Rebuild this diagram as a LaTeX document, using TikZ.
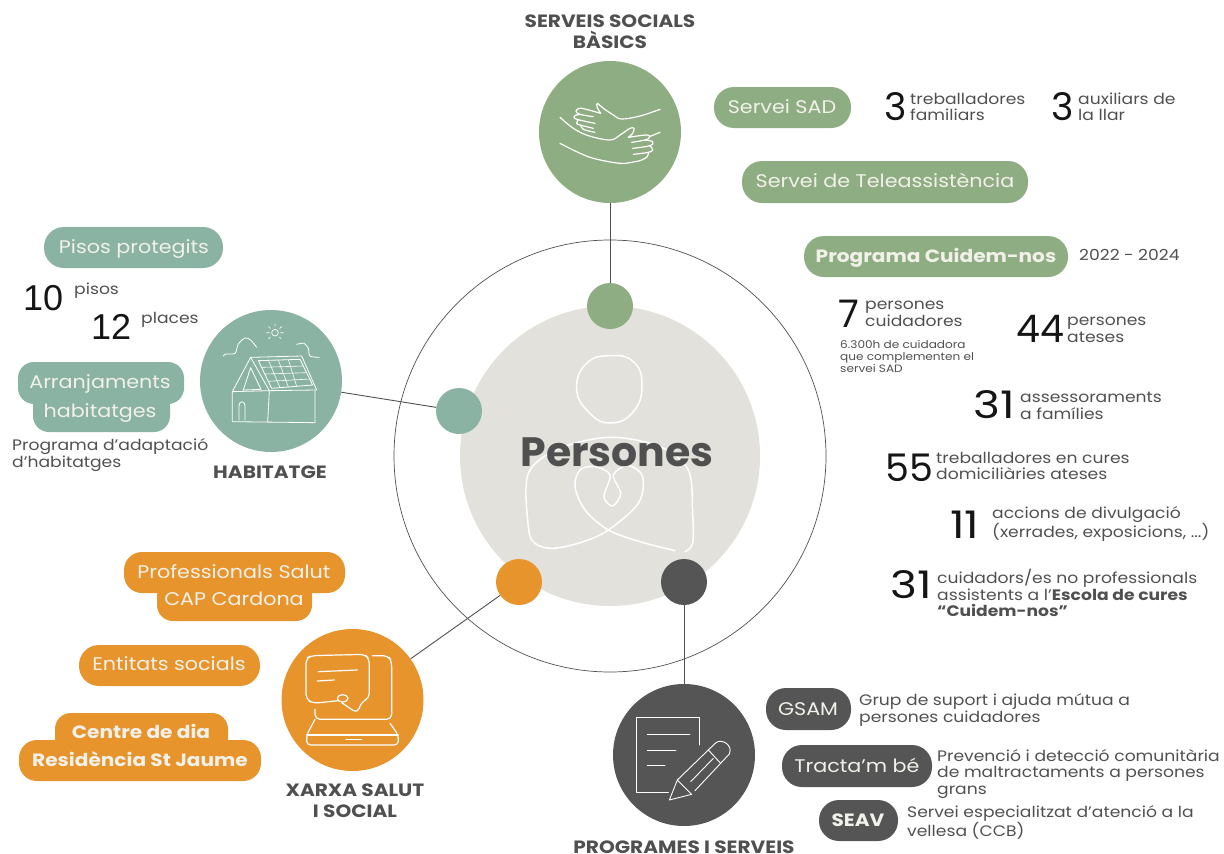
\documentclass[tikz,border=0pt]{standalone}
\usepackage{fontspec}
\setmainfont[FakeStretch=1.13]{Poppins}
\newfontfamily\plainfont{Poppins}
\newfontfamily\widefont[FakeStretch=1.2]{Poppins}
\newfontfamily\arialfont{Liberation Sans}
\definecolor{cgreen}{HTML}{8FAD82}
\definecolor{cteal}{HTML}{8AB3A3}
\definecolor{corange}{HTML}{E8942D}
\definecolor{cdark}{HTML}{555555}
\definecolor{cbeige}{HTML}{E3E1DB}
\definecolor{cpill}{HTML}{F1F1EA}
\definecolor{ctext}{HTML}{505050}
\definecolor{cnum}{HTML}{151515}
\newcommand{\fs}[2]{\fontsize{#1}{#2}\selectfont}
\tikzset{
  x=1pt,y=-1pt,
  zoomed/.style n args={2}{xshift=#1pt,yshift=-#2pt,x=.33333pt,y=-.33333pt},
  icon/.style={draw=white,line width=1.2pt,line cap=round,line join=round},
  ring/.style={draw=ctext,line width=.7pt},
  link/.style={draw=ctext,line width=.9pt},
  pilltext/.style={text=cpill,font=\fs{18.3}{22},inner sep=0pt,text height=12pt,text depth=4pt},
  pillbold/.style={text=cpill,font=\bfseries\fs{17.8}{22},inner sep=0pt,text height=12pt,text depth=4pt},
  title/.style={text=ctext,font=\bfseries\fs{17.8}{21},align=center,inner sep=0pt},
  lab/.style={text=ctext,anchor=west,align=left,font=\fs{15.2}{16.5},inner sep=0pt},
  num/.style={text=cnum,anchor=west,font=\plainfont\fs{38}{40},inner sep=0pt},
  numwide/.style={text=cnum,anchor=west,font=\widefont\fs{38}{40},inner sep=0pt},
  numarial/.style={text=cnum,anchor=west,font=\arialfont\fs{36}{40},inner sep=0pt},
  blob/.style={circle,inner sep=0pt,minimum size=#1}
}
\newcommand{\pill}[7]{%
  \fill[#6,rounded corners=#7pt] (#2,#3) rectangle (#4,#5);}
\begin{document}
\begin{tikzpicture}
\useasboundingbox (0,0) rectangle (1224,854);
% central circles
\node[blob=300pt,fill=cbeige] (core) at (610,456) {};
\node[blob=432pt,ring] (orbit) at (610,456) {};
% person icon
\begin{scope}[zoomed={460}{300}]
\draw[icon,line width=1.5pt] plot[smooth cycle,tension=.8] coordinates {(350,265)(380,190)(450,167)(520,185)(546,255)(520,335)(450,369)(385,335)};
\draw[icon,line width=1.5pt] plot[smooth,tension=.55] coordinates {(645,752)(540,725)(445,690)(375,630)(345,560)(360,510)(405,500)(450,525)(432,590)(458,618)(482,580)(460,525)(505,497)(548,530)(535,610)(445,690)(370,725)(280,745)(225,730)(205,680)(205,520)(300,445)(450,412)(600,440)(685,510)(698,640)(698,730)(675,755)};
\end{scope}
% hubs
\node[blob=142pt,fill=cgreen] (hgreen) at (610,132) {};
\node[blob=142pt,fill=cteal] (hteal) at (271,381) {};
\node[blob=142pt,fill=corange] (horange) at (352.5,700) {};
\node[blob=142pt,fill=cdark] (hdark) at (684,755) {};
\node[blob=46pt,fill=cgreen] (dgreen) at (610,306) {};
\node[blob=46pt,fill=cteal] (dteal) at (459,411) {};
\node[blob=46pt,fill=corange] (dorange) at (519,582) {};
\node[blob=46pt,fill=cdark] (ddark) at (684,582) {};
\draw[link] (hgreen) -- (dgreen);
\draw[link] (hteal) -- (dteal);
\draw[link] (horange) -- (dorange);
\draw[link] (hdark) -- (ddark);
% hug icon
\begin{scope}[zoomed={560}{95}]
\draw[icon] plot[smooth,tension=.6] coordinates {(300,43)(240,63)(185,72)(160,60)(130,40)(112,25)(112,38)(122,55)};
\draw[icon] plot[smooth,tension=.6] coordinates {(122,55)(75,42)(58,40)(48,48)(60,58)(100,65)};
\draw[icon] plot[smooth,tension=.6] coordinates {(60,58)(45,62)(48,72)(105,85)};
\draw[icon] plot[smooth,tension=.6] coordinates {(55,74)(50,85)(60,90)(100,100)};
\draw[icon] plot[smooth,tension=.6] coordinates {(62,90)(70,103)(105,112)};
\draw[icon] plot[smooth,tension=.6] coordinates {(0,67)(40,100)(85,122)(150,135)(180,120)(210,100)(222,100)(218,115)(205,127)};
\draw[icon] plot[smooth,tension=.6] coordinates {(205,127)(260,120)(268,128)(255,135)(215,142)};
\draw[icon] plot[smooth,tension=.6] coordinates {(255,135)(278,140)(270,152)(218,160)};
\draw[icon] plot[smooth,tension=.6] coordinates {(270,152)(278,165)(265,172)(220,178)};
\draw[icon] plot[smooth,tension=.6] coordinates {(265,172)(262,185)(245,195)(225,200)(180,205)(100,190)(50,170)(0,145)};
\draw[icon] (268,125) -- (300,112);
\end{scope}
% house icon
\begin{scope}[zoomed={0}{220}]
\draw[icon,line width=.8pt] (697,515) -- (752,412) -- (905,408) -- (950,510) -- (808,512) -- (752,412);
\draw[icon,line width=.8pt] (730,510) -- (752,443) -- (783,508) -- cycle;
\draw[icon,line width=.8pt] (697,515) -- (808,512) -- (803,605) (697,515) -- (697,605) -- (945,608) -- (945,512);
\draw[icon,line width=.8pt] (775,422) -- (900,418) -- (938,495) -- (815,505) -- cycle;
\draw[icon,line width=.6pt] (785,442) -- (910,438) (795,462) -- (920,458) (805,484) -- (930,477) (805,420) -- (840,503) (835,420) -- (865,501) (865,419) -- (890,499);
\draw[icon,line width=.8pt] (717,600) -- (717,560) .. controls (717,540) and (735,540) .. (735,560) -- (735,600);
\draw[icon,line width=.7pt] (825,338) circle (10);
\draw[icon,line width=.7pt] (825,312) -- (825,318) (800,338) -- (808,338) (842,338) -- (850,338) (806,320) -- (811,325) (845,320) -- (839,325) (806,356) -- (811,351) (843,356) -- (838,351);
\draw[icon,line width=.8pt] plot[smooth,tension=.5] coordinates {(670,408)(678,402)(705,400)(715,372)(735,354)(752,360)(770,382)};
\draw[icon,line width=.8pt] plot[smooth,tension=.5] coordinates {(890,373)(912,370)(925,385)(930,408)(958,412)};
\end{scope}
% laptop icon
\begin{scope}[zoomed={270}{620}]
\draw[icon,rounded corners=5pt] (205,242) -- (130,250) -- (108,238) -- (108,115) -- (125,107) -- (285,103) -- (298,118) -- (298,235) -- (275,245) -- (262,280) -- (215,248);
\draw[icon] (218,235) ellipse (16 and 11);
\draw[icon] (145,155) -- (262,150) (142,183) -- (193,180);
\draw[icon,rounded corners=5pt] (308,107) -- (355,107) -- (365,125) -- (365,298) -- (135,298) -- (135,268);
\draw[icon,rounded corners=4pt] (135,298) -- (110,345) -- (110,375) -- (385,375) -- (385,345) -- (360,310);
\draw[icon] (110,345) -- (385,345) (228,359) -- (275,359);
\end{scope}
% document icon
\begin{scope}[zoomed={600}{680}]
\draw[icon,line width=.9pt] (298,195) -- (298,112) -- (108,112) -- (108,338) -- (205,338);
\draw[icon,line width=.9pt] (142,163) -- (270,163) (142,210) -- (228,210) (142,256) -- (195,256);
\draw[icon,line width=.9pt] (232,300) -- (275,343) -- (208,360) -- cycle;
\draw[icon,line width=.9pt] (232,300) -- (330,205) -- (348,188) .. controls (365,175) and (400,195) .. (388,222) -- (285,332);
\draw[icon,line width=.9pt] (325,210) -- (362,250) (272,305) -- (340,235);
\end{scope}
% pills
\pill{a}{714}{87}{851}{128}{cgreen}{20}
\node[pilltext] (pSAD) at (782,109) {Servei SAD};
\pill{a}{742}{161}{1028}{203}{cgreen}{20}
\node[pilltext] (pTele) at (885,183) {Servei de Teleassistència};
\pill{a}{804}{236}{1068}{277}{cgreen}{20}
\node[pillbold] (pCuid) at (936,258) {Programa Cuidem-nos};
\pill{a}{44}{227}{223}{268}{cteal}{20}
\node[pilltext] (pPisos) at (134,249) {Pisos protegits};
\pill{a}{18}{362}{184}{404}{cteal}{16}
\pill{a}{33}{390}{170}{432}{cteal}{16}
\node[pilltext] (pArr) at (100,384) {Arranjaments};
\node[pilltext] (pHab) at (100,413) {habitatges};
\pill{a}{124}{552}{345}{593}{corange}{18}
\pill{a}{157}{580}{312}{621}{corange}{16}
\node[pilltext] (pProf) at (234,574) {Professionals Salut};
\node[pilltext] (pCap) at (234,601) {CAP Cardona};
\pill{a}{79}{645}{260}{686}{corange}{20}
\node[pilltext] (pEnt) at (169,666) {Entitats socials};
\pill{a}{55}{713}{228}{755}{corange}{16}
\pill{a}{19}{740}{261}{781}{corange}{18}
\node[pillbold] (pCen) at (141,734) {Centre de dia};
\node[pillbold] (pRes) at (140,762) {Residència St Jaume};
\pill{a}{766}{688}{851}{730}{cdark}{20}
\node[pilltext] (pGsam) at (808,711) {GSAM};
\pill{a}{782}{745}{932}{787}{cdark}{20}
\node[pilltext] (pTrac) at (857,768) {Tracta’m bé};
\pill{a}{819}{800}{898}{841}{cdark}{20}
\node[pillbold] (pSeav) at (858,822) {SEAV};
% titles
\node[title] (tServ) at (610,32) {SERVEIS SOCIALS\\BÀSICS};
\node[title] (tHab) at (270,472) {HABITATGE};
\node[title] (tXar) at (355,801) {XARXA SALUT\\I SOCIAL};
\node[title] (tProg) at (684,847) {PROGRAMES I SERVEIS};
\node[text=ctext,font=\plainfont\bfseries\fs{41}{44},inner sep=0pt] (tPers) at (617,452) {Persones};
% figures and labels
\node[num] (n3a) at (884,107) {3};
\node[lab] (l3a) at (910,107) {treballadores\\familiars};
\node[num] (n3b) at (1051,107) {3};
\node[lab] (l3b) at (1078,107) {auxiliars de\\la llar};
\node[lab] (lAny) at (1079,255) {2022 - 2024};
\node[num] (n7) at (838,314) {7};
\node[lab] (l7) at (865,314) {persones\\cuidadores};
\node[lab,font=\fs{10.7}{12}] (lHores) at (840,356) {6.300h de cuidadora\\que complementen el\\servei SAD};
\node[num] (n44) at (1016,329) {44};
\node[lab] (l44) at (1067,330) {persones\\ateses};
\node[numwide] (n31a) at (973,405) {31};
\node[lab] (l31a) at (1020,406) {assessoraments\\a famílies};
\node[num] (n55) at (885,468) {55};
\node[lab] (l55) at (936,466) {treballadores en cures\\domiciliàries ateses};
\node[numwide] (n11) at (950,525) {11};
\node[lab] (l11) at (992,524) {accions de divulgació\\(xerrades, exposicions, ...)};
\node[numwide] (n31b) at (890,585) {31};
\node[lab] (l31b) at (937,593) {cuidadors/es no professionals\\assistents a l’\textbf{Escola de cures}\\\textbf{“Cuidem-nos”}};
\node[numarial] (n10) at (23,298) {10};
\node[lab] (l10) at (74,291) {pisos};
\node[numarial] (n12) at (91,327) {12};
\node[lab] (l12) at (141,320) {places};
\node[lab] (lProg) at (12,455) {Programa d’adaptació\\d’habitatges};
\node[lab] (lGsam) at (859,710) {Grup de suport i ajuda mútua a\\persones cuidadores};
\node[lab] (lTrac) at (937,774) {Prevenció i detecció comunitària\\de maltractaments a persones\\grans};
\node[lab] (lSeav) at (907,822) {Servei especialitzat d’atenció a la\\vellesa (CCB)};
\end{tikzpicture}
\end{document}
